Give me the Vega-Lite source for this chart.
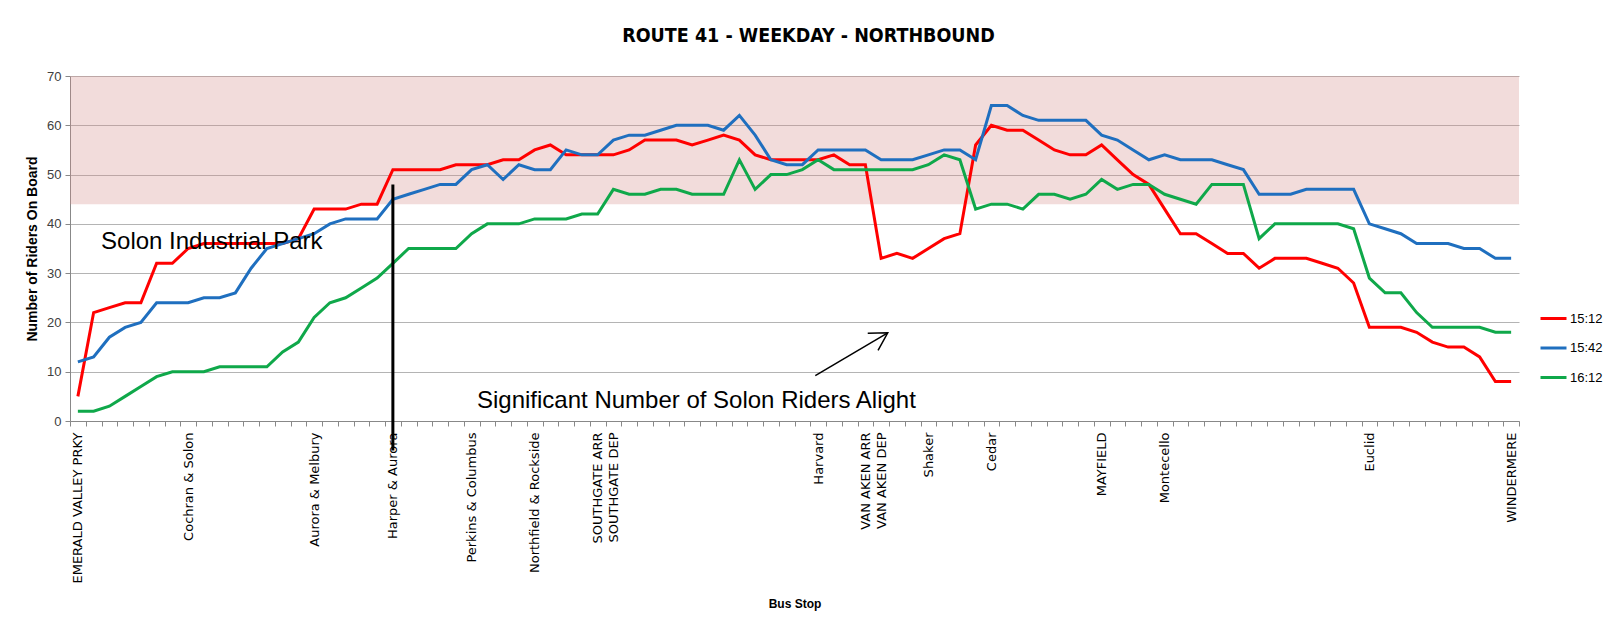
{
  "$schema": "https://vega.github.io/schema/vega-lite/v6.json",
  "width": 1449,
  "height": 345,
  "autosize": "none",
  "padding": {"left": 70, "top": 76, "right": 92, "bottom": 211},
  "background": "white",
  "config": {"view": {"stroke": null}, "font": "Liberation Sans"},
  "title": {
    "text": "ROUTE 41 - WEEKDAY - NORTHBOUND",
    "font": "Liberation Sans Narrow, DejaVu Sans Condensed, Liberation Sans",
    "fontSize": 19.5,
    "fontWeight": "bold",
    "color": "#000000",
    "anchor": "middle",
    "frame": "group",
    "baseline": "alphabetic",
    "offset": 6,
    "dx": 14,
    "dy": -3
  },
  "datasets": {
    "riders": [
      {"stop": "EMERALD VALLEY PRKY", "15:12": 5, "15:42": 12, "16:12": 2},
      {"stop": "_1", "15:12": 22, "15:42": 13, "16:12": 2},
      {"stop": "_2", "15:12": 23, "15:42": 17, "16:12": 3},
      {"stop": "_3", "15:12": 24, "15:42": 19, "16:12": 5},
      {"stop": "_4", "15:12": 24, "15:42": 20, "16:12": 7},
      {"stop": "_5", "15:12": 32, "15:42": 24, "16:12": 9},
      {"stop": "_6", "15:12": 32, "15:42": 24, "16:12": 10},
      {"stop": "Cochran & Solon", "15:12": 35, "15:42": 24, "16:12": 10},
      {"stop": "_8", "15:12": 36, "15:42": 25, "16:12": 10},
      {"stop": "_9", "15:12": 36, "15:42": 25, "16:12": 11},
      {"stop": "_10", "15:12": 36, "15:42": 26, "16:12": 11},
      {"stop": "_11", "15:12": 36, "15:42": 31, "16:12": 11},
      {"stop": "_12", "15:12": 36, "15:42": 35, "16:12": 11},
      {"stop": "_13", "15:12": 36, "15:42": 36, "16:12": 14},
      {"stop": "_14", "15:12": 37, "15:42": 37, "16:12": 16},
      {"stop": "Aurora & Melbury", "15:12": 43, "15:42": 38, "16:12": 21},
      {"stop": "_16", "15:12": 43, "15:42": 40, "16:12": 24},
      {"stop": "_17", "15:12": 43, "15:42": 41, "16:12": 25},
      {"stop": "_18", "15:12": 44, "15:42": 41, "16:12": 27},
      {"stop": "_19", "15:12": 44, "15:42": 41, "16:12": 29},
      {"stop": "Harper & Aurora", "15:12": 51, "15:42": 45, "16:12": 32},
      {"stop": "_21", "15:12": 51, "15:42": 46, "16:12": 35},
      {"stop": "_22", "15:12": 51, "15:42": 47, "16:12": 35},
      {"stop": "_23", "15:12": 51, "15:42": 48, "16:12": 35},
      {"stop": "_24", "15:12": 52, "15:42": 48, "16:12": 35},
      {"stop": "Perkins & Columbus", "15:12": 52, "15:42": 51, "16:12": 38},
      {"stop": "_26", "15:12": 52, "15:42": 52, "16:12": 40},
      {"stop": "_27", "15:12": 53, "15:42": 49, "16:12": 40},
      {"stop": "_28", "15:12": 53, "15:42": 52, "16:12": 40},
      {"stop": "Northfield & Rockside", "15:12": 55, "15:42": 51, "16:12": 41},
      {"stop": "_30", "15:12": 56, "15:42": 51, "16:12": 41},
      {"stop": "_31", "15:12": 54, "15:42": 55, "16:12": 41},
      {"stop": "_32", "15:12": 54, "15:42": 54, "16:12": 42},
      {"stop": "SOUTHGATE ARR", "15:12": 54, "15:42": 54, "16:12": 42},
      {"stop": "SOUTHGATE DEP", "15:12": 54, "15:42": 57, "16:12": 47},
      {"stop": "_35", "15:12": 55, "15:42": 58, "16:12": 46},
      {"stop": "_36", "15:12": 57, "15:42": 58, "16:12": 46},
      {"stop": "_37", "15:12": 57, "15:42": 59, "16:12": 47},
      {"stop": "_38", "15:12": 57, "15:42": 60, "16:12": 47},
      {"stop": "_39", "15:12": 56, "15:42": 60, "16:12": 46},
      {"stop": "_40", "15:12": 57, "15:42": 60, "16:12": 46},
      {"stop": "_41", "15:12": 58, "15:42": 59, "16:12": 46},
      {"stop": "_42", "15:12": 57, "15:42": 62, "16:12": 53},
      {"stop": "_43", "15:12": 54, "15:42": 58, "16:12": 47},
      {"stop": "_44", "15:12": 53, "15:42": 53, "16:12": 50},
      {"stop": "_45", "15:12": 53, "15:42": 52, "16:12": 50},
      {"stop": "_46", "15:12": 53, "15:42": 52, "16:12": 51},
      {"stop": "Harvard", "15:12": 53, "15:42": 55, "16:12": 53},
      {"stop": "_48", "15:12": 54, "15:42": 55, "16:12": 51},
      {"stop": "_49", "15:12": 52, "15:42": 55, "16:12": 51},
      {"stop": "VAN AKEN ARR", "15:12": 52, "15:42": 55, "16:12": 51},
      {"stop": "VAN AKEN DEP", "15:12": 33, "15:42": 53, "16:12": 51},
      {"stop": "_52", "15:12": 34, "15:42": 53, "16:12": 51},
      {"stop": "_53", "15:12": 33, "15:42": 53, "16:12": 51},
      {"stop": "Shaker", "15:12": 35, "15:42": 54, "16:12": 52},
      {"stop": "_55", "15:12": 37, "15:42": 55, "16:12": 54},
      {"stop": "_56", "15:12": 38, "15:42": 55, "16:12": 53},
      {"stop": "_57", "15:12": 56, "15:42": 53, "16:12": 43},
      {"stop": "Cedar", "15:12": 60, "15:42": 64, "16:12": 44},
      {"stop": "_59", "15:12": 59, "15:42": 64, "16:12": 44},
      {"stop": "_60", "15:12": 59, "15:42": 62, "16:12": 43},
      {"stop": "_61", "15:12": 57, "15:42": 61, "16:12": 46},
      {"stop": "_62", "15:12": 55, "15:42": 61, "16:12": 46},
      {"stop": "_63", "15:12": 54, "15:42": 61, "16:12": 45},
      {"stop": "_64", "15:12": 54, "15:42": 61, "16:12": 46},
      {"stop": "MAYFIELD", "15:12": 56, "15:42": 58, "16:12": 49},
      {"stop": "_66", "15:12": 53, "15:42": 57, "16:12": 47},
      {"stop": "_67", "15:12": 50, "15:42": 55, "16:12": 48},
      {"stop": "_68", "15:12": 48, "15:42": 53, "16:12": 48},
      {"stop": "Montecello", "15:12": 43, "15:42": 54, "16:12": 46},
      {"stop": "_70", "15:12": 38, "15:42": 53, "16:12": 45},
      {"stop": "_71", "15:12": 38, "15:42": 53, "16:12": 44},
      {"stop": "_72", "15:12": 36, "15:42": 53, "16:12": 48},
      {"stop": "_73", "15:12": 34, "15:42": 52, "16:12": 48},
      {"stop": "_74", "15:12": 34, "15:42": 51, "16:12": 48},
      {"stop": "_75", "15:12": 31, "15:42": 46, "16:12": 37},
      {"stop": "_76", "15:12": 33, "15:42": 46, "16:12": 40},
      {"stop": "_77", "15:12": 33, "15:42": 46, "16:12": 40},
      {"stop": "_78", "15:12": 33, "15:42": 47, "16:12": 40},
      {"stop": "_79", "15:12": 32, "15:42": 47, "16:12": 40},
      {"stop": "_80", "15:12": 31, "15:42": 47, "16:12": 40},
      {"stop": "_81", "15:12": 28, "15:42": 47, "16:12": 39},
      {"stop": "Euclid", "15:12": 19, "15:42": 40, "16:12": 29},
      {"stop": "_83", "15:12": 19, "15:42": 39, "16:12": 26},
      {"stop": "_84", "15:12": 19, "15:42": 38, "16:12": 26},
      {"stop": "_85", "15:12": 18, "15:42": 36, "16:12": 22},
      {"stop": "_86", "15:12": 16, "15:42": 36, "16:12": 19},
      {"stop": "_87", "15:12": 15, "15:42": 36, "16:12": 19},
      {"stop": "_88", "15:12": 15, "15:42": 35, "16:12": 19},
      {"stop": "_89", "15:12": 13, "15:42": 35, "16:12": 19},
      {"stop": "_90", "15:12": 8, "15:42": 33, "16:12": 18},
      {"stop": "WINDERMERE", "15:12": 8, "15:42": 33, "16:12": 18}
    ],
    "band": [{"lo": 44, "hi": 70}],
    "marker": [{"pos": 20, "top": 48, "bottom": -6}],
    "notes": [
      {"pos": 1.47, "val": 35.0, "text": "Solon Industrial Park"},
      {"pos": 25.34, "val": 2.6, "text": "Significant Number of Solon Riders Alight"}
    ],
    "arrow": [
      {"pos": 46.82, "val": 9.19},
      {"pos": 51.42, "val": 17.9}
    ],
    "arrowhead": [{"pos": 51.42, "val": 17.9}]
  },
  "resolve": {"scale": {"x": "independent"}},
  "layer": [
    {
      "data": {"name": "band"},
      "mark": {"type": "rect", "fill": "#D48A87", "opacity": 0.3},
      "encoding": {
        "y": {
          "field": "lo", "type": "quantitative",
          "scale": {"domain": [0, 70], "nice": false, "zero": false},
          "axis": {
            "title": "Number of Riders On Board",
            "titleFontSize": 14,
            "titleFontWeight": "bold",
            "titleColor": "#000000",
            "titlePadding": 7,
            "values": [0, 10, 20, 30, 40, 50, 60, 70],
            "grid": true,
            "gridColor": "#B4B4B4",
            "gridWidth": 1.2,
            "domainColor": "#888888",
            "tickColor": "#888888",
            "tickSize": 5,
            "labelFontSize": 13,
            "labelColor": "#404040",
            "labelPadding": 4
          }
        },
        "y2": {"field": "hi"}
      }
    },
    {
      "data": {"name": "riders"},
      "transform": [{"fold": ["15:12", "15:42", "16:12"], "as": ["time", "riders"]}],
      "mark": {"type": "line", "strokeWidth": 3},
      "encoding": {
        "x": {
          "field": "stop", "type": "nominal", "sort": null,
          "scale": {"type": "band", "paddingInner": 0, "paddingOuter": 0},
          "axis": {
            "title": "Bus Stop",
            "titleFontSize": 12,
            "titleFontWeight": "bold",
            "titleColor": "#000000",
            "titlePadding": 15,
            "labelAngle": -90,
            "labelFont": "DejaVu Sans",
            "labelFontSize": 13,
            "labelColor": "#000000",
            "labelOverlap": false,
            "labelPadding": 6,
            "labelExpr": "substring(datum.label, 0, 1) == '_' ? '' : datum.label",
            "tickBand": "extent",
            "tickSize": 5,
            "tickColor": "#888888",
            "domainColor": "#888888",
            "grid": false
          }
        },
        "y": {"field": "riders", "type": "quantitative", "scale": {"domain": [0, 70], "nice": false, "zero": false}},
        "color": {
          "field": "time", "type": "nominal",
          "scale": {"domain": ["15:12", "15:42", "16:12"], "range": ["#FF0000", "#1F6FBF", "#0FA84A"]},
          "legend": {
            "orient": "none",
            "legendX": 1469,
            "legendY": 228,
            "title": null,
            "symbolType": "stroke",
            "symbolSize": 676,
            "symbolStrokeWidth": 3,
            "labelFontSize": 13,
            "labelFont": "Liberation Sans Narrow, Liberation Sans",
            "labelColor": "#000000",
            "labelOffset": 2,
            "rowPadding": 7.5,
            "padding": 0
          }
        }
      }
    },
    {
      "data": {"name": "marker"},
      "mark": {"type": "rule", "color": "#000000", "strokeWidth": 3},
      "encoding": {
        "x": {"field": "pos", "type": "quantitative", "scale": {"domain": [-0.5, 91.5], "nice": false, "zero": false}, "axis": null},
        "y": {"field": "top", "type": "quantitative", "scale": {"domain": [0, 70], "nice": false, "zero": false}},
        "y2": {"field": "bottom"}
      }
    },
    {
      "data": {"name": "arrow"},
      "mark": {"type": "line", "color": "#000000", "strokeWidth": 1.5},
      "encoding": {
        "x": {"field": "pos", "type": "quantitative", "scale": {"domain": [-0.5, 91.5], "nice": false, "zero": false}, "axis": null},
        "y": {"field": "val", "type": "quantitative", "scale": {"domain": [0, 70], "nice": false, "zero": false}}
      }
    },
    {
      "data": {"name": "arrowhead"},
      "mark": {"type": "point", "shape": "M -0.5 0.866 L 0 0 L 0.5 0.866", "filled": false, "stroke": "#000000", "strokeWidth": 1.5, "size": 1600, "angle": 59, "opacity": 1},
      "encoding": {
        "x": {"field": "pos", "type": "quantitative", "scale": {"domain": [-0.5, 91.5], "nice": false, "zero": false}, "axis": null},
        "y": {"field": "val", "type": "quantitative", "scale": {"domain": [0, 70], "nice": false, "zero": false}}
      }
    },
    {
      "data": {"name": "notes"},
      "mark": {"type": "text", "align": "left", "baseline": "alphabetic", "fontSize": 24, "font": "Liberation Sans", "color": "#000000"},
      "encoding": {
        "x": {"field": "pos", "type": "quantitative", "scale": {"domain": [-0.5, 91.5], "nice": false, "zero": false}, "axis": null},
        "y": {"field": "val", "type": "quantitative", "scale": {"domain": [0, 70], "nice": false, "zero": false}},
        "text": {"field": "text"}
      }
    }
  ]
}
